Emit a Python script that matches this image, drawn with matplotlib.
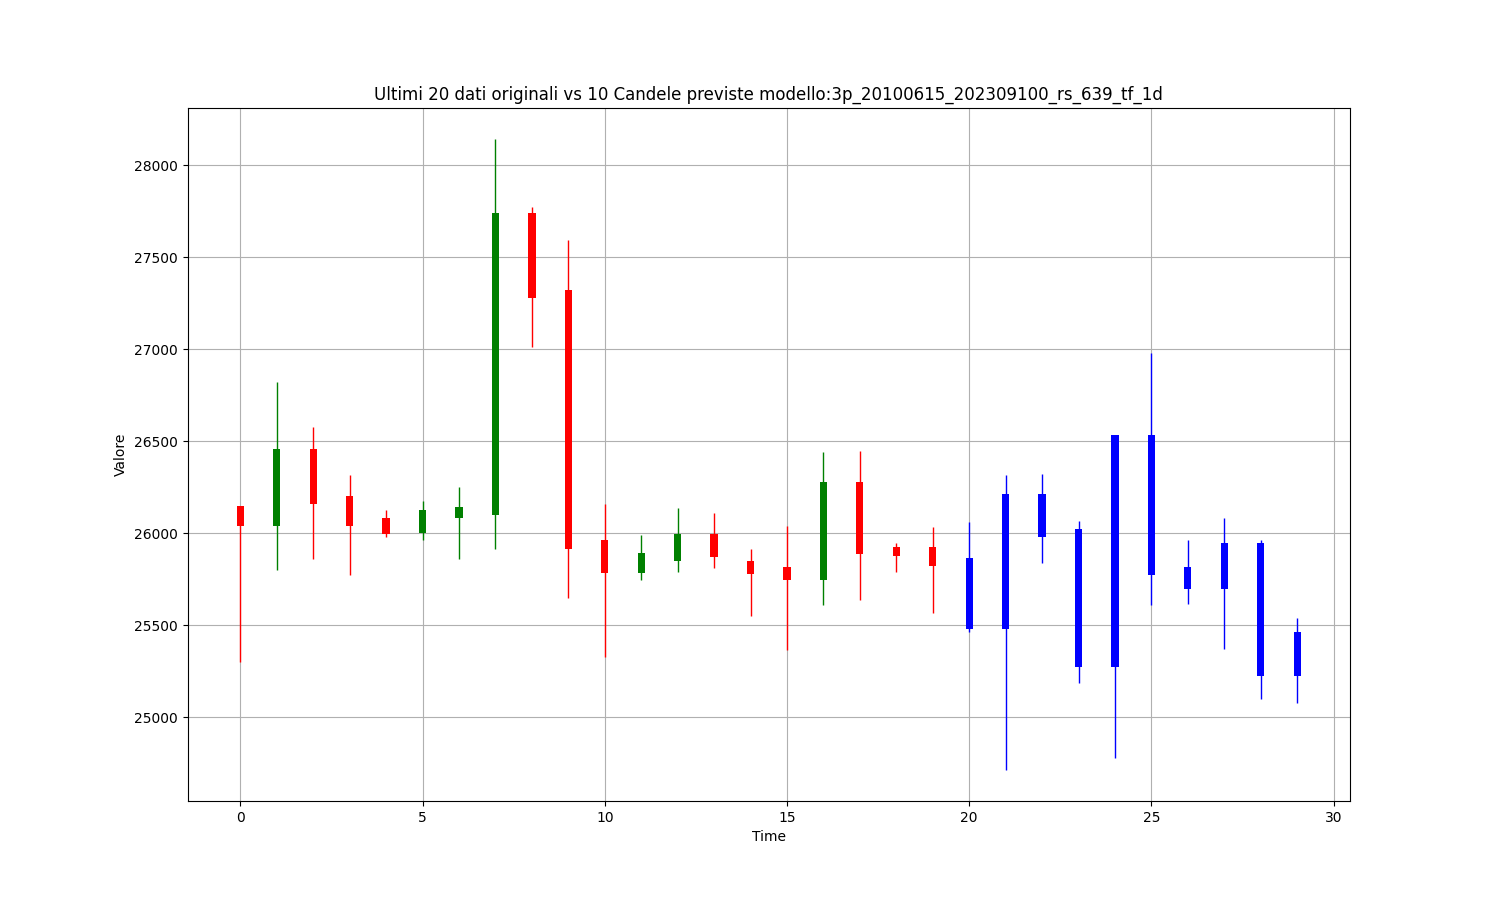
import matplotlib
matplotlib.use("Agg")
import matplotlib.pyplot as plt
import numpy as np

# Original candles (index 0..19)
orig_open  = [26147, 26038, 26457, 26201, 26082, 26000, 26082, 26098, 27739, 27321,
              25962, 25783, 25848, 25995, 25848, 25815, 25745, 26277, 25929, 25924]
orig_close = [26038, 26457, 26158, 26038, 25995, 26125, 26141, 27739, 27277, 25918,
              25783, 25891, 25995, 25870, 25777, 25745, 26277, 25891, 25880, 25821]
orig_high  = [26147, 26821, 26576, 26315, 26125, 26179, 26255, 28141, 27772, 27592,
              26158, 25989, 26136, 26109, 25918, 26038, 26440, 26446, 25946, 26033]
orig_low   = [25299, 25804, 25859, 25772, 25978, 25967, 25859, 25918, 27011, 25647,
              25326, 25745, 25793, 25810, 25554, 25364, 25609, 25641, 25788, 25565]

# Predicted candles (index 20..29)
pred_open  = [25864, 25478, 26212, 26022, 25272, 26533, 25815, 25696, 25946, 25223]
pred_close = [25478, 26212, 25978, 25272, 26533, 25772, 25696, 25946, 25223, 25467]
pred_high  = [26060, 26315, 26321, 26065, 26533, 26978, 25967, 26082, 25967, 25543]
pred_low   = [25462, 24717, 25837, 25185, 24777, 25609, 25614, 25370, 25103, 25076]

title = "Ultimi 20 dati originali vs 10 Candele previste modello:3p_20100615_202309100_rs_639_tf_1d"

fig, ax = plt.subplots(figsize=(15, 9), dpi=100)

def draw(xs, o, c, h, l, colors):
    for x, oo, cc, hh, ll, col in zip(xs, o, c, h, l, colors):
        ax.vlines(x, ll, hh, color=col, linewidth=1, zorder=3)
        lo, hi = min(oo, cc), max(oo, cc)
        ax.bar(x, hi - lo, bottom=lo, width=0.2, color=col, zorder=3)

n_o = len(orig_open)
xs_o = np.arange(n_o)
cols_o = ['green' if c >= o else 'red' for o, c in zip(orig_open, orig_close)]
draw(xs_o, orig_open, orig_close, orig_high, orig_low, cols_o)

xs_p = np.arange(n_o, n_o + len(pred_open))
draw(xs_p, pred_open, pred_close, pred_high, pred_low, ['blue'] * len(pred_open))

ax.set_xlim(-1.45, 30.45)
ax.set_ylim(24546, 28312)
ax.grid(True)
ax.set_axisbelow(True)
ax.set_title(title)
ax.set_xlabel("Time")
ax.set_ylabel("Valore")

fig.savefig("out.png", dpi=100)
